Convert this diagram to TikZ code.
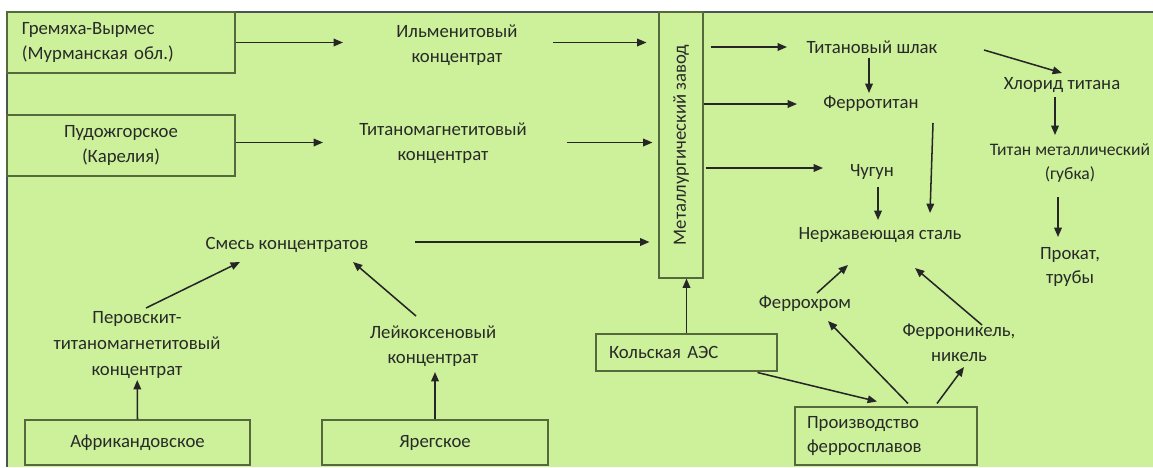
\documentclass[tikz,border=0pt]{standalone}
\usepackage{fontspec}
\setmainfont{Carlito}
\usetikzlibrary{arrows.meta, calc}
\usepackage{xcolor}
\definecolor{bggreen}{RGB}{205,240,155}
\definecolor{boxline}{RGB}{85,105,60}
\definecolor{txtgray}{RGB}{40,42,40}
\definecolor{frameline}{RGB}{75,85,80}

\tikzset{
  srcbox/.style={draw=boxline, line width=0.9pt, fill=bggreen, inner sep=0pt,
    text=txtgray, font=\fontsize{16}{21}\selectfont},
  lbl/.style={align=center, text=txtgray, font=\fontsize{16}{21}\selectfont, inner sep=0pt},
  flow/.style={-{Triangle[length=8pt,width=6.5pt]}, line width=1.3pt, draw=black!85}
}

\begin{document}
\begin{tikzpicture}[x=0.03cm, y=-0.03cm]
    \useasboundingbox (0,0) rectangle (1153,467);
    \fill[bggreen] (7,12) rectangle (1153,467);
    \draw[frameline, line width=1pt] (7,467) -- (7,12) -- (1153,12);

    % deposits and sources
    \node[srcbox, minimum width=6.84cm, minimum height=1.83cm, text width=5.94cm,
          inner xsep=0.45cm, align=left] (grem) at (121,42.5)
          {Гремяха-Вырмес\\(Мурманская обл.)};
    \node[srcbox, minimum width=6.84cm, minimum height=1.83cm, align=center] (pud) at (121,145.5)
          {Пудожгорское\\(Карелия)};
    \node[srcbox, minimum width=6.75cm, minimum height=1.35cm] (afr) at (137.5,442.5) {Африкандовское};
    \node[srcbox, minimum width=6.78cm, minimum height=1.35cm] (yar) at (435,442.5) {Ярегское};
    \node[srcbox, minimum width=5.43cm, minimum height=1.11cm, text width=4.65cm,
          inner xsep=0.39cm, align=left] (kol) at (686.5,352.5) {Кольская АЭС};
    \node[srcbox, minimum width=5.46cm, minimum height=1.74cm, text width=4.74cm,
          inner xsep=0.36cm, align=left] (proizv) at (886,436) {Производство\\ферросплавов};
    \node[srcbox, minimum width=1.32cm, minimum height=7.98cm] (zavod) at (681,145) {};
    \node[lbl, rotate=90] (zavodtxt) at (zavod) {Металлургический завод};

    % products
    \node[lbl] (ilm) at (457,45) {Ильменитовый\\концентрат};
    \node[lbl] (tmag) at (443,143) {Титаномагнетитовый\\концентрат};
    \node[lbl] (smes) at (287,245) {Смесь концентратов};
    \node[lbl, font=\fontsize{16}{22.5}\selectfont] (perov) at (137,345) {Перовскит-\\титаномагнетитовый\\концентрат};
    \node[lbl] (leik) at (433,346) {Лейкоксеновый\\концентрат};
    \node[lbl] (shlak) at (872,47) {Титановый шлак};
    \node[lbl] (ferti) at (871,104) {Ферротитан};
    \node[lbl] (chlor) at (1062,85) {Хлорид титана};
    \node[lbl, font=\fontsize{15}{20}\selectfont] (tim) at (1070,163) {Титан металлический\\(губка)};
    \node[lbl] (prokat) at (1070,267) {Прокат,\\трубы};
    \node[lbl] (chug) at (872,172) {Чугун};
    \node[lbl] (nerzh) at (880,235) {Нержавеющая сталь};
    \node[lbl] (fchr) at (805,304) {Феррохром};
    \node[lbl] (fnik) at (959,343) {Ферроникель,\\никель};

    % flows into the plant
    \draw[flow, shorten >=3.42cm] (grem.east) -- (grem.east -| ilm);
    \draw[flow, shorten <=2.88cm, shorten >=0.36cm] (grem.east -| ilm) -- (grem.east -| zavod.west);
    \draw[flow, shorten >=3.6cm] ([yshift=0.09cm]pud.east) -- ([yshift=0.09cm]pud.east -| tmag);
    \draw[flow, shorten <=3.72cm, shorten >=0.18cm] ([yshift=0.09cm]pud.east -| tmag) -- ([yshift=0.09cm]pud.east -| zavod.west);
    \draw[flow, shorten <=3.84cm, shorten >=0.27cm] ([yshift=0.09cm]smes.center) -- ([yshift=0.09cm]smes -| zavod.west);
    \draw[flow] ($(perov)+(9,-37)$) -- ($(smes)+(-47,17)$);
    \draw[flow] ($(leik)+(-17,-30)$) -- ($(smes)+(66,17)$);
    \draw[flow, shorten >=1.05cm] (afr.north) -- (perov.center);
    \draw[flow, shorten >=0.78cm] (yar.north) -- (yar.north |- leik);
    \draw[flow] (kol.north) -- (kol.north |- zavod.south);

    % flows out of the plant
    \draw[flow, shorten <=0.21cm, shorten >=2.55cm] (zavod.east |- shlak) -- (shlak.center);
    \draw[flow, shorten >=2.22cm] (zavod.east |- ferti) -- (ferti.center);
    \draw[flow, shorten <=0.06cm, shorten >=1.47cm] ([yshift=0.12cm]zavod.east |- chug) -- ([yshift=0.12cm]chug.center);
    \draw[flow, shorten <=0.33cm, shorten >=0.33cm] ([xshift=-0.09cm]shlak.center) -- ([xshift=-0.06cm]ferti.center);
    \draw[flow] ($(shlak)+(112,3)$) -- ($(chlor)+(0,-12)$);
    \draw[flow, shorten <=0.36cm, shorten >=0.84cm] ([xshift=-0.21cm]chlor.center) -- ([xshift=-0.21cm]chlor |- tim);
    \draw[flow, shorten <=1.02cm, shorten >=0.9cm] ([xshift=-0.36cm]tim.center) -- ([xshift=-0.36cm]prokat.center);
    \draw[flow, shorten <=0.45cm, shorten >=0.45cm] ([xshift=0.18cm]chug.center) -- ([xshift=0.18cm]chug |- nerzh);
    \draw[flow] ($(ferti)+(62,19)$) -- ($(nerzh)+(50,-22)$);

    % ferroalloys
    \draw[flow] ($(kol.south east)+(-20,1)$) -- ($(proizv.north)+(-9,-5)$);
    \draw[flow] ($(proizv.north)+(22,-3)$) -- ($(fchr)+(23,17)$);
    \draw[flow] ($(proizv.north)+(51,-3)$) -- ($(fnik)+(5,24)$);
    \draw[flow] ($(fchr)+(12,-11)$) -- ($(nerzh)+(-32,30)$);
    \draw[flow] ($(fnik)+(23,-18)$) -- ($(nerzh)+(35,33)$);
\end{tikzpicture}
\end{document}
